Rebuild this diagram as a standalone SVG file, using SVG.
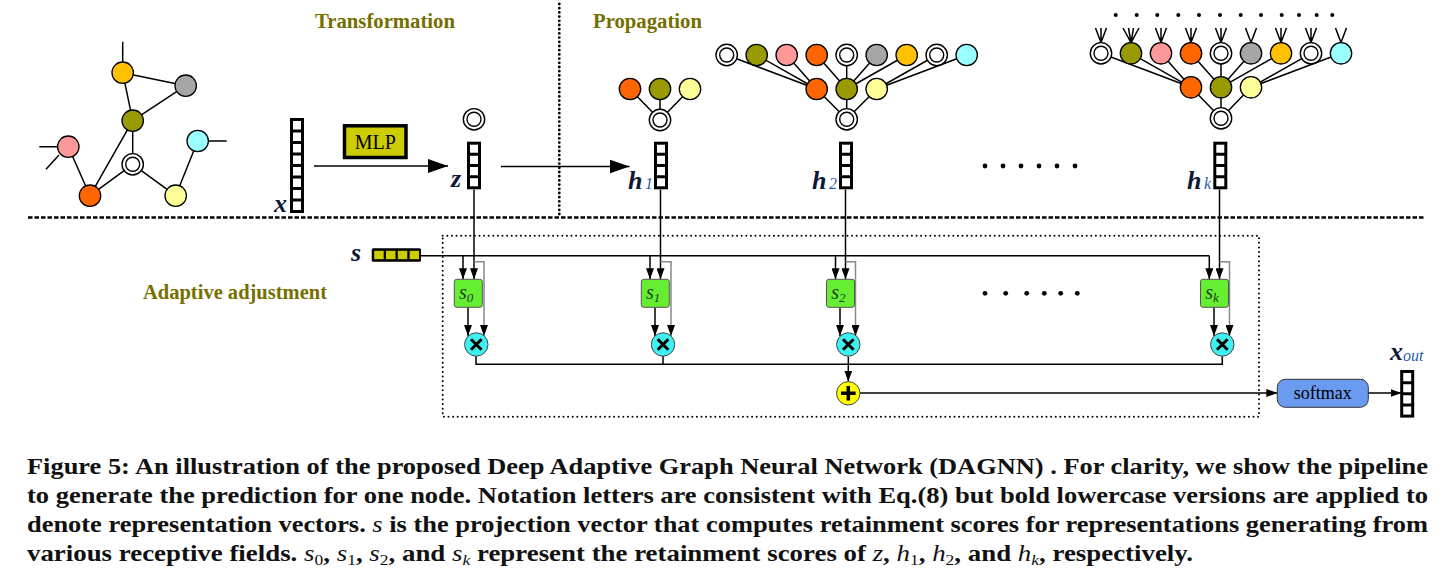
<svg xmlns="http://www.w3.org/2000/svg" xmlns:xlink="http://www.w3.org/1999/xlink" width="1449" height="578" viewBox="0 0 1449 578">
<style>
.ttl{font-family:"Liberation Serif",serif;font-weight:bold;font-size:20.5px;fill:#756F00}
.lbl{font-family:"Liberation Serif",serif;font-weight:bold;font-style:italic;font-size:26px;fill:#10183a}
.sub{font-family:"Liberation Serif",serif;font-style:italic;font-size:16px;fill:#2a5cae}
.cap{font-family:"Liberation Serif",serif;font-weight:bold;font-size:23px;fill:#111}
.m{font-style:italic;font-weight:normal}
.u{font-weight:normal}
.e{stroke:#000;stroke-width:1.5;fill:none}
.c{stroke:#000;stroke-width:1.5;fill:none}
.g{stroke:#888;stroke-width:1.5;fill:none}
.n{stroke:#000;stroke-width:1.3}
.dbl{fill:#fff;stroke:#000;stroke-width:1.4}
.sbox{fill:#66EE33;stroke:#555;stroke-width:1}
.sl{font-family:"Liberation Serif",serif;font-style:italic;font-size:20px;fill:#1f3a1f}
.ss{font-family:"Liberation Serif",serif;font-style:italic;font-size:13px;fill:#1f3a1f}
.mul{fill:#40F0F0;stroke:#444;stroke-width:1}
.sym{stroke:#000;stroke-width:3;stroke-linecap:butt}
</style>
<defs>
<marker id="ab" markerUnits="userSpaceOnUse" markerWidth="22" markerHeight="14" refX="20" refY="7" orient="auto"><path d="M0,0 L20,7 L0,14 z" fill="#000"/></marker>
<marker id="as" markerUnits="userSpaceOnUse" markerWidth="12" markerHeight="8" refX="11" refY="4" orient="auto"><path d="M0,0 L11,4 L0,8 z" fill="#000"/></marker>
<g id="vec4"><rect x="0" y="0" width="11" height="44.6" fill="#fff" stroke="#000" stroke-width="3"/><path d="M0,11.15 H11 M0,22.3 H11 M0,33.45 H11" stroke="#000" stroke-width="3"/></g>
<g id="vec8"><rect x="0" y="0" width="11" height="92" fill="#fff" stroke="#000" stroke-width="3"/><path d="M0,11.5 H11 M0,23 H11 M0,34.5 H11 M0,46 H11 M0,57.5 H11 M0,69 H11 M0,80.5 H11" stroke="#000" stroke-width="3"/></g>
<g id="dc"><circle r="10.7" class="dbl"/><circle r="7" class="dbl"/></g>
</defs>
<rect width="1449" height="578" fill="#fff"/>

<g id="titles">
<text class="ttl" x="315" y="28" textLength="140" lengthAdjust="spacingAndGlyphs">Transformation</text>
<text class="ttl" x="593" y="28" textLength="109" lengthAdjust="spacingAndGlyphs">Propagation</text>
<text class="ttl" x="143" y="299" textLength="184" lengthAdjust="spacingAndGlyphs">Adaptive adjustment</text>
</g>
<g id="separators">
<line x1="559.3" y1="4" x2="559.3" y2="215" stroke="#000" stroke-width="2.8" stroke-dasharray="0 4.2" stroke-linecap="round"/>
<line x1="28" y1="217.5" x2="1425" y2="217.5" stroke="#000" stroke-width="2.3" stroke-dasharray="4.5 2"/>
<rect x="442.7" y="235.7" width="816.3" height="181" fill="none" stroke="#000" stroke-width="2" stroke-dasharray="0 4.6" stroke-linecap="round"/>
</g>

<g id="connectors">
<path class="e" d="M122.7,72.7 L185.7,85.7 M122.7,72.7 L132.7,120.7 M185.7,85.7 L132.7,120.7 M132.7,120.7 L132.7,164.3 M132.7,120.7 L90,195.7 M68.3,146.7 L90,195.7 M90,195.7 L132.7,164.3 M132.7,164.3 L175.7,195.7 M175.7,195.7 L197.7,141"/>
<path class="e" d="M122.7,62 L122.7,41.7 M57.6,146.7 L39.3,146.7 M59,155 L46,169.3 M208.4,141 L226.7,141"/>
<path class="e" d="M630,89 L660,120 M660,89 L660,120 M690,89 L660,120"/>
<path class="e" d="M726.7,55 L816.7,89 M756.7,55 L816.7,89 M786.7,55 L816.7,89 M816.7,55 L846.7,89 M846.7,55 L846.7,89 M876.7,55 L846.7,89 M906.7,55 L846.7,89 M936.7,55 L876.7,89 M966.7,55 L876.7,89 M816.7,89 L846.7,119.3 M846.7,89 L846.7,119.3 M876.7,89 L846.7,119.3"/>
<path class="e" d="M1101,53.3 L1191,87.3 M1131,53.3 L1191,87.3 M1161,53.3 L1191,87.3 M1191,53.3 L1221,87.3 M1221,53.3 L1221,87.3 M1251,53.3 L1221,87.3 M1281,53.3 L1221,87.3 M1311,53.3 L1251,87.3 M1341,53.3 L1251,87.3 M1191,87.3 L1221,118.3 M1221,87.3 L1221,118.3 M1251,87.3 L1221,118.3"/>
<path class="e" stroke-width="1.2" d="M1101,42.6 L1095.5,28 M1101,42.6 L1101,28 M1101,42.6 L1106.5,28
M1131,42.6 L1123,28 M1131,42.6 L1128.5,28 M1131,42.6 L1133.5,28 M1131,42.6 L1139,28
M1161,42.6 L1155.5,28 M1161,42.6 L1161,28 M1161,42.6 L1166.5,28
M1191,42.6 L1185.5,28 M1191,42.6 L1191,28 M1191,42.6 L1196.5,28
M1221,42.6 L1215.5,28 M1221,42.6 L1221,28 M1221,42.6 L1226.5,28
M1251,42.6 L1245.5,28 M1251,42.6 L1256.5,28
M1281,42.6 L1275.5,28 M1281,42.6 L1281,28 M1281,42.6 L1286.5,28
M1311,42.6 L1305.5,28 M1311,42.6 L1311,28 M1311,42.6 L1316.5,28
M1341,42.6 L1335.5,28 M1341,42.6 L1346.5,28"/>
<line class="c" x1="314" y1="166" x2="448" y2="166" marker-end="url(#ab)"/>
<line class="c" x1="501" y1="166.5" x2="629.5" y2="166.5" marker-end="url(#ab)"/>
<path class="c" d="M421,255.7 H1209.3"/>
<path class="c" d="M474,189.5 V279.3" marker-end="url(#as)"/>
<path class="c" d="M463,255.7 V279.3" marker-end="url(#as)"/>
<path class="g" d="M474,261.7 H484 V336" marker-end="url(#as)"/>
<path class="c" d="M468,307.3 V336" marker-end="url(#as)"/>
<path class="c" d="M660.5,189.5 V279.3" marker-end="url(#as)"/>
<path class="c" d="M650,255.7 V279.3" marker-end="url(#as)"/>
<path class="g" d="M660.5,261.7 H671 V336" marker-end="url(#as)"/>
<path class="c" d="M655,307.3 V336" marker-end="url(#as)"/>
<path class="c" d="M845.5,189.5 V279.3" marker-end="url(#as)"/>
<path class="c" d="M835.5,255.7 V279.3" marker-end="url(#as)"/>
<path class="g" d="M845.5,261.7 H855.5 V336" marker-end="url(#as)"/>
<path class="c" d="M840,307.3 V336" marker-end="url(#as)"/>
<path class="c" d="M1219.5,189.5 V279.3" marker-end="url(#as)"/>
<path class="c" d="M1209.3,255.7 V279.3" marker-end="url(#as)"/>
<path class="g" d="M1219.5,261.7 H1229.5 V336" marker-end="url(#as)"/>
<path class="c" d="M1214,307.3 V336" marker-end="url(#as)"/>
<path class="c" d="M476,356 V364.3 H1222.3 V356 M663,356 V364.3"/>
<path class="c" d="M848.3,356.5 V381.6" marker-end="url(#as)"/>
<path class="c" d="M860,393 H1277.3" marker-end="url(#as)"/>
<path class="c" d="M1368.3,393 H1401.5" marker-end="url(#as)"/>
</g>

<g id="input-graph">
<circle cx="122.7" cy="72.7" r="10.7" class="n" fill="#FFC000"/>
<circle cx="185.7" cy="85.7" r="10.7" class="n" fill="#A6A6A6"/>
<circle cx="132.7" cy="120.7" r="10.7" class="n" fill="#999900"/>
<circle cx="68.3" cy="146.7" r="10.7" class="n" fill="#FF9999"/>
<circle cx="197.7" cy="141" r="10.7" class="n" fill="#99FFFF"/>
<use xlink:href="#dc" x="132.7" y="164.3"/>
<circle cx="90" cy="195.7" r="10.7" class="n" fill="#FF6600"/>
<circle cx="175.7" cy="195.7" r="10.7" class="n" fill="#FFFF99"/>
</g>

<g id="vec-x"><use xlink:href="#vec8" x="291.5" y="119.5"/><text class="lbl" x="274" y="212">x</text></g>
<g id="mlp"><rect x="344.5" y="125.8" width="61.5" height="31.7" fill="#CCCC00" stroke="#000" stroke-width="3.5"/><text x="375.2" y="148.5" text-anchor="middle" font-family="Liberation Serif, serif" font-size="20">MLP</text></g>
<g id="vec-z"><use xlink:href="#dc" x="474" y="119.3"/><use xlink:href="#vec4" x="468.5" y="143.2"/><text class="lbl" x="451" y="187">z</text></g>

<g id="tree-h1">
<circle cx="630" cy="89" r="10.7" class="n" fill="#FF6600"/>
<circle cx="660" cy="89" r="10.7" class="n" fill="#999900"/>
<circle cx="690" cy="89" r="10.7" class="n" fill="#FFFF99"/>
<use xlink:href="#dc" x="660" y="120"/>
</g>
<g id="vec-h1"><use xlink:href="#vec4" x="655.5" y="143.2"/><text class="lbl" x="628" y="189">h</text><text class="sub" x="645" y="189">1</text></g>

<g id="tree-h2">
<use xlink:href="#dc" x="726.7" y="55"/>
<circle cx="756.7" cy="55" r="10.7" class="n" fill="#999900"/>
<circle cx="786.7" cy="55" r="10.7" class="n" fill="#FF9999"/>
<circle cx="816.7" cy="55" r="10.7" class="n" fill="#FF6600"/>
<use xlink:href="#dc" x="846.7" y="55"/>
<circle cx="876.7" cy="55" r="10.7" class="n" fill="#A6A6A6"/>
<circle cx="906.7" cy="55" r="10.7" class="n" fill="#FFC000"/>
<use xlink:href="#dc" x="936.7" y="55"/>
<circle cx="966.7" cy="55" r="10.7" class="n" fill="#99FFFF"/>
<circle cx="816.7" cy="89" r="10.7" class="n" fill="#FF6600"/>
<circle cx="846.7" cy="89" r="10.7" class="n" fill="#999900"/>
<circle cx="876.7" cy="89" r="10.7" class="n" fill="#FFFF99"/>
<use xlink:href="#dc" x="846.7" y="119.3"/>
</g>
<g id="vec-h2"><use xlink:href="#vec4" x="840.5" y="143.2"/><text class="lbl" x="812" y="189">h</text><text class="sub" x="829" y="189">2</text></g>

<g id="ellipsis-top" fill="#000">
<circle cx="985" cy="166" r="2.4"/><circle cx="1003" cy="166" r="2.4"/><circle cx="1021" cy="166" r="2.4"/><circle cx="1039" cy="166" r="2.4"/><circle cx="1057" cy="166" r="2.4"/><circle cx="1075" cy="166" r="2.4"/>
</g>

<g id="tree-hk">
<g fill="#000">
<circle cx="1115.7" cy="15" r="2"/><circle cx="1136.7" cy="15" r="2"/><circle cx="1157.3" cy="15" r="2"/><circle cx="1178.3" cy="15" r="2"/><circle cx="1199" cy="15" r="2"/><circle cx="1220" cy="15" r="2"/><circle cx="1240.7" cy="15" r="2"/><circle cx="1261" cy="15" r="2"/><circle cx="1281.7" cy="15" r="2"/><circle cx="1299" cy="15" r="2"/><circle cx="1316.7" cy="15" r="2"/><circle cx="1332.3" cy="15" r="2"/>
</g>
<use xlink:href="#dc" x="1101" y="53.3"/>
<circle cx="1131" cy="53.3" r="10.7" class="n" fill="#999900"/>
<circle cx="1161" cy="53.3" r="10.7" class="n" fill="#FF9999"/>
<circle cx="1191" cy="53.3" r="10.7" class="n" fill="#FF6600"/>
<use xlink:href="#dc" x="1221" y="53.3"/>
<circle cx="1251" cy="53.3" r="10.7" class="n" fill="#A6A6A6"/>
<circle cx="1281" cy="53.3" r="10.7" class="n" fill="#FFC000"/>
<use xlink:href="#dc" x="1311" y="53.3"/>
<circle cx="1341" cy="53.3" r="10.7" class="n" fill="#99FFFF"/>
<circle cx="1191" cy="87.3" r="10.7" class="n" fill="#FF6600"/>
<circle cx="1221" cy="87.3" r="10.7" class="n" fill="#999900"/>
<circle cx="1251" cy="87.3" r="10.7" class="n" fill="#FFFF99"/>
<use xlink:href="#dc" x="1221" y="118.3"/>
</g>
<g id="vec-hk"><use xlink:href="#vec4" x="1214.8" y="143.2"/><text class="lbl" x="1187" y="189">h</text><text class="sub" x="1204" y="189">k</text></g>

<g id="vec-s">
<text class="lbl" x="351" y="261">s</text>
<rect x="371.7" y="248.3" width="49.3" height="13.4" rx="1.5" fill="#000"/>
<rect x="374.2" y="250.8" width="9.5" height="8.4" fill="#CCCC00"/>
<rect x="386" y="250.8" width="9.5" height="8.4" fill="#CCCC00"/>
<rect x="397.8" y="250.8" width="9.5" height="8.4" fill="#CCCC00"/>
<rect x="409.6" y="250.8" width="9.5" height="8.4" fill="#CCCC00"/>
</g>

<g id="score-s0"><rect class="sbox" x="454.3" y="279.3" width="28" height="28" rx="2.5"/><text class="sl" x="459" y="298.5">s<tspan class="ss" dy="3">0</tspan></text></g>
<g id="score-s1"><rect class="sbox" x="641.3" y="279.3" width="28" height="28" rx="2.5"/><text class="sl" x="646" y="298.5">s<tspan class="ss" dy="3">1</tspan></text></g>
<g id="score-s2"><rect class="sbox" x="826.5" y="279.3" width="28" height="28" rx="2.5"/><text class="sl" x="831.2" y="298.5">s<tspan class="ss" dy="3">2</tspan></text></g>
<g id="score-sk"><rect class="sbox" x="1200.5" y="279.3" width="28" height="28" rx="2.5"/><text class="sl" x="1205.2" y="298.5">s<tspan class="ss" dy="3">k</tspan></text></g>

<g id="ellipsis-mid" fill="#000">
<circle cx="985" cy="293.3" r="2.4"/><circle cx="1005.7" cy="293.3" r="2.4"/><circle cx="1026.7" cy="293.3" r="2.4"/><circle cx="1044.3" cy="293.3" r="2.4"/><circle cx="1060.7" cy="293.3" r="2.4"/><circle cx="1077.3" cy="293.3" r="2.4"/>
</g>

<g id="mul-0"><circle class="mul" cx="476.3" cy="344.5" r="11.7"/><path class="sym" d="M471,339.2 L481.6,349.8 M481.6,339.2 L471,349.8"/></g>
<g id="mul-1"><circle class="mul" cx="663" cy="344.5" r="11.7"/><path class="sym" d="M657.7,339.2 L668.3,349.8 M668.3,339.2 L657.7,349.8"/></g>
<g id="mul-2"><circle class="mul" cx="848.3" cy="344.5" r="11.7"/><path class="sym" d="M843,339.2 L853.6,349.8 M853.6,339.2 L843,349.8"/></g>
<g id="mul-k"><circle class="mul" cx="1222.3" cy="344.5" r="11.7"/><path class="sym" d="M1217,339.2 L1227.6,349.8 M1227.6,339.2 L1217,349.8"/></g>

<g id="sum"><circle cx="848.3" cy="393.3" r="11.7" fill="#FFFF00" stroke="#444" stroke-width="1"/><path stroke="#000" stroke-width="3.5" d="M841,393.3 H855.6 M848.3,386 V400.6"/></g>

<g id="softmax"><rect x="1277.3" y="379.3" width="91" height="28" rx="8" fill="#6A9BF0" stroke="#333" stroke-width="1"/><text x="1322.8" y="398.5" text-anchor="middle" font-family="Liberation Serif, serif" font-size="18">softmax</text></g>

<g id="vec-xout"><use xlink:href="#vec4" x="1401.7" y="371.5"/><text class="lbl" x="1390" y="360" font-size="24">x</text><text class="sub" x="1403" y="361" font-size="15">out</text></g>

<g id="caption">
<text class="cap" x="27" y="474" textLength="1401" lengthAdjust="spacingAndGlyphs">Figure 5: An illustration of the proposed Deep Adaptive Graph Neural Network (DAGNN) . For clarity, we show the pipeline</text>
<text class="cap" x="27" y="503" textLength="1401" lengthAdjust="spacingAndGlyphs">to generate the prediction for one node. Notation letters are consistent with Eq.(8) but bold lowercase versions are applied to</text>
<text class="cap" x="27" y="532" textLength="1401" lengthAdjust="spacingAndGlyphs">denote representation vectors. <tspan class="m">s</tspan> is the projection vector that computes retainment scores for representations generating from</text>
<text class="cap" x="27" y="561" textLength="1166" lengthAdjust="spacingAndGlyphs">various receptive fields. <tspan class="m">s</tspan><tspan class="u" font-size="15" dy="4">0</tspan><tspan dy="-4">, </tspan><tspan class="m">s</tspan><tspan class="u" font-size="15" dy="4">1</tspan><tspan dy="-4">, </tspan><tspan class="m">s</tspan><tspan class="u" font-size="15" dy="4">2</tspan><tspan dy="-4">, and </tspan><tspan class="m">s</tspan><tspan class="m" font-size="15" dy="4">k</tspan><tspan dy="-4"> represent the retainment scores of </tspan><tspan class="m">z</tspan>, <tspan class="m">h</tspan><tspan class="u" font-size="15" dy="4">1</tspan><tspan dy="-4">, </tspan><tspan class="m">h</tspan><tspan class="u" font-size="15" dy="4">2</tspan><tspan dy="-4">, and </tspan><tspan class="m">h</tspan><tspan class="m" font-size="15" dy="4">k</tspan><tspan dy="-4">, respectively.</tspan></text>
</g>
</svg>
